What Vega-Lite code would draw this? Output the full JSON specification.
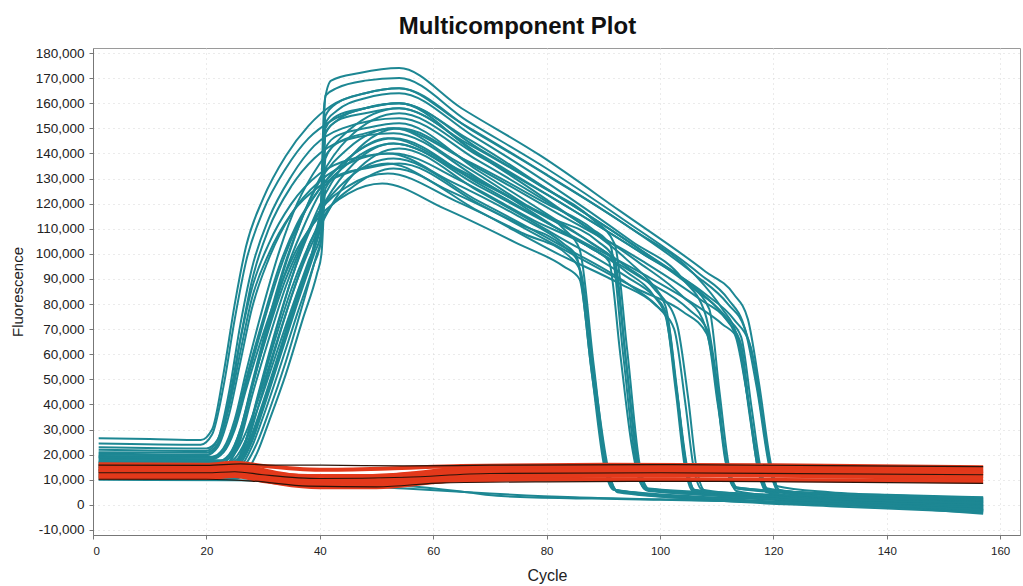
{
  "$schema": "https://vega.github.io/schema/vega-lite/v6.json",
  "width": 927,
  "height": 487,
  "autosize": "none",
  "padding": {"left": 93, "top": 48, "right": 3, "bottom": 51},
  "background": "white",
  "title": {
    "text": "Multicomponent Plot",
    "font": "Liberation Sans",
    "fontSize": 24,
    "fontWeight": "bold",
    "color": "#111111",
    "anchor": "middle",
    "dx": -39,
    "offset": 7
  },
  "config": {
    "view": {"stroke": "#9a9a9a", "strokeWidth": 1},
    "axis": {
      "labelFont": "Liberation Sans",
      "titleFont": "Liberation Sans",
      "labelColor": "#222222",
      "titleColor": "#222222",
      "titleFontWeight": "normal",
      "domainColor": "#777777",
      "tickColor": "#777777",
      "tickSize": 4,
      "gridColor": "#d6d6d6",
      "gridDash": [1, 4],
      "gridWidth": 1
    }
  },
  "datasets": {
    "fam": [
      {"well":"W01","cycle":1,"value":26500},{"well":"W01","cycle":10,"value":26200},{"well":"W01","cycle":19,"value":25800},{"well":"W01","cycle":21,"value":30000},{"well":"W01","cycle":23,"value":52000},{"well":"W01","cycle":25,"value":80000},{"well":"W01","cycle":27,"value":103000},{"well":"W01","cycle":30,"value":122000},{"well":"W01","cycle":34,"value":139000},{"well":"W01","cycle":38,"value":151000},{"well":"W01","cycle":42,"value":159000},{"well":"W01","cycle":48,"value":164000},{"well":"W01","cycle":54,"value":166000},{"well":"W01","cycle":65,"value":152000},{"well":"W01","cycle":79,"value":133000},{"well":"W01","cycle":93,"value":113000},{"well":"W01","cycle":106,"value":92000},{"well":"W01","cycle":112,"value":80000},{"well":"W01","cycle":115,"value":70000},{"well":"W01","cycle":117,"value":52000},{"well":"W01","cycle":119,"value":20000},{"well":"W01","cycle":120.5,"value":7500},{"well":"W01","cycle":130,"value":5000},{"well":"W01","cycle":145,"value":3500},{"well":"W01","cycle":157,"value":2500},

      {"well":"W02","cycle":1,"value":24500},{"well":"W02","cycle":19,"value":24000},{"well":"W02","cycle":21,"value":28000},{"well":"W02","cycle":23,"value":47000},{"well":"W02","cycle":25,"value":74000},{"well":"W02","cycle":27,"value":97000},{"well":"W02","cycle":30,"value":117000},{"well":"W02","cycle":34,"value":134000},{"well":"W02","cycle":38,"value":146000},{"well":"W02","cycle":42,"value":153000},{"well":"W02","cycle":48,"value":158000},{"well":"W02","cycle":54,"value":160000},{"well":"W02","cycle":66,"value":146000},{"well":"W02","cycle":80,"value":126000},{"well":"W02","cycle":95,"value":104000},{"well":"W02","cycle":106,"value":86000},{"well":"W02","cycle":111,"value":76000},{"well":"W02","cycle":113.5,"value":66000},{"well":"W02","cycle":115.5,"value":42000},{"well":"W02","cycle":117.5,"value":14000},{"well":"W02","cycle":119,"value":6500},{"well":"W02","cycle":130,"value":4000},{"well":"W02","cycle":145,"value":2500},{"well":"W02","cycle":157,"value":1500},

      {"well":"W03","cycle":1,"value":22000},{"well":"W03","cycle":20,"value":21500},{"well":"W03","cycle":22,"value":26000},{"well":"W03","cycle":24,"value":45000},{"well":"W03","cycle":26,"value":72000},{"well":"W03","cycle":28,"value":94000},{"well":"W03","cycle":31,"value":114000},{"well":"W03","cycle":35,"value":131000},{"well":"W03","cycle":39,"value":143000},{"well":"W03","cycle":44,"value":150000},{"well":"W03","cycle":54,"value":154000},{"well":"W03","cycle":68,"value":137000},{"well":"W03","cycle":82,"value":118000},{"well":"W03","cycle":96,"value":97000},{"well":"W03","cycle":104,"value":83000},{"well":"W03","cycle":107.5,"value":74000},{"well":"W03","cycle":109.5,"value":55000},{"well":"W03","cycle":111.5,"value":18000},{"well":"W03","cycle":113,"value":7000},{"well":"W03","cycle":125,"value":5000},{"well":"W03","cycle":140,"value":4000},{"well":"W03","cycle":157,"value":3000},

      {"well":"W04","cycle":1,"value":20500},{"well":"W04","cycle":20,"value":20000},{"well":"W04","cycle":22,"value":24000},{"well":"W04","cycle":24,"value":40000},{"well":"W04","cycle":26,"value":66000},{"well":"W04","cycle":28,"value":89000},{"well":"W04","cycle":31,"value":110000},{"well":"W04","cycle":35,"value":127000},{"well":"W04","cycle":39,"value":138000},{"well":"W04","cycle":44,"value":145000},{"well":"W04","cycle":53,"value":148000},{"well":"W04","cycle":68,"value":130000},{"well":"W04","cycle":82,"value":110000},{"well":"W04","cycle":94,"value":93000},{"well":"W04","cycle":99,"value":83000},{"well":"W04","cycle":101,"value":75000},{"well":"W04","cycle":103,"value":45000},{"well":"W04","cycle":104.8,"value":15000},{"well":"W04","cycle":106,"value":6000},{"well":"W04","cycle":120,"value":3000},{"well":"W04","cycle":140,"value":1200},{"well":"W04","cycle":157,"value":-500},

      {"well":"W05","cycle":1,"value":23000},{"well":"W05","cycle":20,"value":22500},{"well":"W05","cycle":22,"value":26000},{"well":"W05","cycle":24,"value":42000},{"well":"W05","cycle":26,"value":66000},{"well":"W05","cycle":28,"value":86000},{"well":"W05","cycle":31,"value":104000},{"well":"W05","cycle":35,"value":120000},{"well":"W05","cycle":40,"value":132000},{"well":"W05","cycle":46,"value":138000},{"well":"W05","cycle":53,"value":140000},{"well":"W05","cycle":65,"value":129000},{"well":"W05","cycle":78,"value":113000},{"well":"W05","cycle":88,"value":102000},{"well":"W05","cycle":91,"value":97000},{"well":"W05","cycle":93,"value":60000},{"well":"W05","cycle":95,"value":24000},{"well":"W05","cycle":96.5,"value":9000},{"well":"W05","cycle":98,"value":5500},{"well":"W05","cycle":115,"value":3500},{"well":"W05","cycle":135,"value":2000},{"well":"W05","cycle":157,"value":500},

      {"well":"W06","cycle":1,"value":21000},{"well":"W06","cycle":20,"value":20800},{"well":"W06","cycle":22,"value":24500},{"well":"W06","cycle":24,"value":39000},{"well":"W06","cycle":26,"value":61000},{"well":"W06","cycle":28,"value":82000},{"well":"W06","cycle":31,"value":100000},{"well":"W06","cycle":35,"value":116000},{"well":"W06","cycle":40,"value":127000},{"well":"W06","cycle":46,"value":133000},{"well":"W06","cycle":52,"value":136000},{"well":"W06","cycle":62,"value":126000},{"well":"W06","cycle":75,"value":112000},{"well":"W06","cycle":83,"value":103000},{"well":"W06","cycle":85.5,"value":97000},{"well":"W06","cycle":88,"value":55000},{"well":"W06","cycle":90.5,"value":14000},{"well":"W06","cycle":92,"value":6000},{"well":"W06","cycle":105,"value":3000},{"well":"W06","cycle":130,"value":0},{"well":"W06","cycle":157,"value":-2500},

      {"well":"W07","cycle":1,"value":19000},{"well":"W07","cycle":21,"value":18800},{"well":"W07","cycle":23,"value":21000},{"well":"W07","cycle":25,"value":30000},{"well":"W07","cycle":27,"value":46000},{"well":"W07","cycle":30,"value":68000},{"well":"W07","cycle":33,"value":87000},{"well":"W07","cycle":36,"value":102000},{"well":"W07","cycle":40,"value":115000},{"well":"W07","cycle":45,"value":124000},{"well":"W07","cycle":51,"value":128000},{"well":"W07","cycle":62,"value":118000},{"well":"W07","cycle":75,"value":104000},{"well":"W07","cycle":83,"value":95000},{"well":"W07","cycle":85.8,"value":90000},{"well":"W07","cycle":88,"value":52000},{"well":"W07","cycle":90.8,"value":14000},{"well":"W07","cycle":92.5,"value":5500},{"well":"W07","cycle":105,"value":2500},{"well":"W07","cycle":130,"value":-500},{"well":"W07","cycle":157,"value":-3000},

      {"well":"W08","cycle":1,"value":17500},{"well":"W08","cycle":22,"value":17300},{"well":"W08","cycle":24,"value":20000},{"well":"W08","cycle":26,"value":30000},{"well":"W08","cycle":28,"value":47000},{"well":"W08","cycle":31,"value":70000},{"well":"W08","cycle":34,"value":90000},{"well":"W08","cycle":37,"value":105000},{"well":"W08","cycle":40,"value":117000},{"well":"W08","cycle":45,"value":127000},{"well":"W08","cycle":52,"value":132000},{"well":"W08","cycle":64,"value":121000},{"well":"W08","cycle":76,"value":108000},{"well":"W08","cycle":84,"value":99000},{"well":"W08","cycle":86,"value":93000},{"well":"W08","cycle":88.5,"value":50000},{"well":"W08","cycle":91,"value":13000},{"well":"W08","cycle":92.5,"value":5000},{"well":"W08","cycle":110,"value":2000},{"well":"W08","cycle":135,"value":-200},{"well":"W08","cycle":157,"value":-2000},

      {"well":"W09","cycle":1,"value":16000},{"well":"W09","cycle":22,"value":15800},{"well":"W09","cycle":24,"value":18500},{"well":"W09","cycle":26,"value":29000},{"well":"W09","cycle":28,"value":47000},{"well":"W09","cycle":31,"value":71000},{"well":"W09","cycle":34,"value":93000},{"well":"W09","cycle":37,"value":110000},{"well":"W09","cycle":40,"value":124000},{"well":"W09","cycle":45,"value":136000},{"well":"W09","cycle":53,"value":144000},{"well":"W09","cycle":66,"value":131000},{"well":"W09","cycle":80,"value":115000},{"well":"W09","cycle":89,"value":105000},{"well":"W09","cycle":92,"value":98000},{"well":"W09","cycle":94,"value":58000},{"well":"W09","cycle":96.3,"value":15000},{"well":"W09","cycle":97.8,"value":6000},{"well":"W09","cycle":115,"value":3800},{"well":"W09","cycle":140,"value":2200},{"well":"W09","cycle":157,"value":1000},

      {"well":"W10","cycle":1,"value":15000},{"well":"W10","cycle":22,"value":14800},{"well":"W10","cycle":24,"value":17000},{"well":"W10","cycle":26,"value":26000},{"well":"W10","cycle":28,"value":43000},{"well":"W10","cycle":31,"value":66000},{"well":"W10","cycle":34,"value":87000},{"well":"W10","cycle":37,"value":104000},{"well":"W10","cycle":40,"value":117000},{"well":"W10","cycle":45,"value":130000},{"well":"W10","cycle":53,"value":138000},{"well":"W10","cycle":68,"value":121000},{"well":"W10","cycle":82,"value":104000},{"well":"W10","cycle":95,"value":87000},{"well":"W10","cycle":100,"value":78000},{"well":"W10","cycle":102.5,"value":70000},{"well":"W10","cycle":104.5,"value":40000},{"well":"W10","cycle":106,"value":14000},{"well":"W10","cycle":107.5,"value":6000},{"well":"W10","cycle":120,"value":3500},{"well":"W10","cycle":140,"value":1500},{"well":"W10","cycle":157,"value":0},

      {"well":"W11","cycle":1,"value":18500},{"well":"W11","cycle":21,"value":18200},{"well":"W11","cycle":23,"value":21000},{"well":"W11","cycle":25,"value":31000},{"well":"W11","cycle":27,"value":48000},{"well":"W11","cycle":30,"value":72000},{"well":"W11","cycle":33,"value":94000},{"well":"W11","cycle":36,"value":111000},{"well":"W11","cycle":40,"value":126000},{"well":"W11","cycle":45,"value":138000},{"well":"W11","cycle":53,"value":146000},{"well":"W11","cycle":68,"value":128000},{"well":"W11","cycle":82,"value":110000},{"well":"W11","cycle":97,"value":90000},{"well":"W11","cycle":105,"value":78000},{"well":"W11","cycle":108.5,"value":69000},{"well":"W11","cycle":110.3,"value":40000},{"well":"W11","cycle":112,"value":14000},{"well":"W11","cycle":113.5,"value":6500},{"well":"W11","cycle":125,"value":4500},{"well":"W11","cycle":145,"value":3000},{"well":"W11","cycle":157,"value":2000},

      {"well":"W12","cycle":1,"value":13500},{"well":"W12","cycle":23,"value":13300},{"well":"W12","cycle":25,"value":16000},{"well":"W12","cycle":27,"value":26000},{"well":"W12","cycle":29,"value":42000},{"well":"W12","cycle":32,"value":65000},{"well":"W12","cycle":35,"value":86000},{"well":"W12","cycle":38,"value":103000},{"well":"W12","cycle":41,"value":116000},{"well":"W12","cycle":46,"value":127000},{"well":"W12","cycle":53,"value":134000},{"well":"W12","cycle":68,"value":117000},{"well":"W12","cycle":82,"value":100000},{"well":"W12","cycle":93,"value":88000},{"well":"W12","cycle":99,"value":80000},{"well":"W12","cycle":101.3,"value":74000},{"well":"W12","cycle":103,"value":44000},{"well":"W12","cycle":104.8,"value":14000},{"well":"W12","cycle":106.3,"value":5500},{"well":"W12","cycle":120,"value":2500},{"well":"W12","cycle":140,"value":500},{"well":"W12","cycle":157,"value":-1500},

      {"well":"W13","cycle":1,"value":12000},{"well":"W13","cycle":23,"value":11800},{"well":"W13","cycle":25,"value":14500},{"well":"W13","cycle":27,"value":25000},{"well":"W13","cycle":29,"value":42000},{"well":"W13","cycle":32,"value":67000},{"well":"W13","cycle":35,"value":90000},{"well":"W13","cycle":38,"value":109000},{"well":"W13","cycle":41,"value":124000},{"well":"W13","cycle":46,"value":140000},{"well":"W13","cycle":54,"value":150000},{"well":"W13","cycle":68,"value":134000},{"well":"W13","cycle":82,"value":116000},{"well":"W13","cycle":97,"value":97000},{"well":"W13","cycle":107,"value":82000},{"well":"W13","cycle":112,"value":73000},{"well":"W13","cycle":114.3,"value":64000},{"well":"W13","cycle":116,"value":35000},{"well":"W13","cycle":117.7,"value":13000},{"well":"W13","cycle":119.2,"value":5000},{"well":"W13","cycle":130,"value":1500},{"well":"W13","cycle":145,"value":-1500},{"well":"W13","cycle":157,"value":-3500},

      {"well":"W14","cycle":1,"value":14500},{"well":"W14","cycle":22,"value":14300},{"well":"W14","cycle":24,"value":17000},{"well":"W14","cycle":26,"value":28000},{"well":"W14","cycle":28,"value":46000},{"well":"W14","cycle":31,"value":72000},{"well":"W14","cycle":34,"value":96000},{"well":"W14","cycle":37,"value":115000},{"well":"W14","cycle":40,"value":130000},{"well":"W14","cycle":45,"value":146000},{"well":"W14","cycle":54,"value":156000},{"well":"W14","cycle":68,"value":139000},{"well":"W14","cycle":82,"value":121000},{"well":"W14","cycle":97,"value":100000},{"well":"W14","cycle":108,"value":84000},{"well":"W14","cycle":113,"value":74000},{"well":"W14","cycle":116,"value":63000},{"well":"W14","cycle":118,"value":35000},{"well":"W14","cycle":119.8,"value":13000},{"well":"W14","cycle":121.3,"value":5000},{"well":"W14","cycle":135,"value":1500},{"well":"W14","cycle":157,"value":-1000},

      {"well":"W15","cycle":1,"value":17000},{"well":"W15","cycle":22,"value":16800},{"well":"W15","cycle":24,"value":19500},{"well":"W15","cycle":26,"value":30000},{"well":"W15","cycle":28,"value":48000},{"well":"W15","cycle":31,"value":74000},{"well":"W15","cycle":34,"value":97000},{"well":"W15","cycle":37,"value":115000},{"well":"W15","cycle":40,"value":129000},{"well":"W15","cycle":45,"value":142000},{"well":"W15","cycle":53,"value":150000},{"well":"W15","cycle":66,"value":137000},{"well":"W15","cycle":80,"value":120000},{"well":"W15","cycle":88,"value":110000},{"well":"W15","cycle":91.3,"value":103000},{"well":"W15","cycle":93.5,"value":60000},{"well":"W15","cycle":95.8,"value":16000},{"well":"W15","cycle":97.3,"value":6500},{"well":"W15","cycle":115,"value":4000},{"well":"W15","cycle":140,"value":2500},{"well":"W15","cycle":157,"value":1500},

      {"well":"W16","cycle":1,"value":11000},{"well":"W16","cycle":23,"value":10900},{"well":"W16","cycle":25,"value":13500},{"well":"W16","cycle":27,"value":23000},{"well":"W16","cycle":29,"value":38000},{"well":"W16","cycle":32,"value":61000},{"well":"W16","cycle":35,"value":83000},{"well":"W16","cycle":38,"value":101000},{"well":"W16","cycle":41,"value":115000},{"well":"W16","cycle":46,"value":132000},{"well":"W16","cycle":54,"value":142000},{"well":"W16","cycle":68,"value":125000},{"well":"W16","cycle":82,"value":107000},{"well":"W16","cycle":94,"value":91000},{"well":"W16","cycle":99,"value":83000},{"well":"W16","cycle":100.8,"value":78000},{"well":"W16","cycle":102.8,"value":45000},{"well":"W16","cycle":104.4,"value":15000},{"well":"W16","cycle":105.8,"value":5500},{"well":"W16","cycle":120,"value":2000},{"well":"W16","cycle":145,"value":-1000},{"well":"W16","cycle":157,"value":-2800},

      {"well":"W17","cycle":1,"value":19500},{"well":"W17","cycle":21,"value":19200},{"well":"W17","cycle":23,"value":22500},{"well":"W17","cycle":25,"value":34000},{"well":"W17","cycle":27,"value":53000},{"well":"W17","cycle":30,"value":79000},{"well":"W17","cycle":33,"value":102000},{"well":"W17","cycle":36,"value":120000},{"well":"W17","cycle":40,"value":136000},{"well":"W17","cycle":45,"value":149000},{"well":"W17","cycle":54,"value":158000},{"well":"W17","cycle":68,"value":140000},{"well":"W17","cycle":82,"value":121000},{"well":"W17","cycle":97,"value":100000},{"well":"W17","cycle":105,"value":88000},{"well":"W17","cycle":108.7,"value":78000},{"well":"W17","cycle":110.5,"value":45000},{"well":"W17","cycle":112.2,"value":15000},{"well":"W17","cycle":113.8,"value":6500},{"well":"W17","cycle":128,"value":4500},{"well":"W17","cycle":145,"value":3200},{"well":"W17","cycle":157,"value":2200},

      {"well":"W18","cycle":1,"value":13000},{"well":"W18","cycle":23,"value":12800},{"well":"W18","cycle":25,"value":15500},{"well":"W18","cycle":27,"value":26000},{"well":"W18","cycle":29,"value":43000},{"well":"W18","cycle":32,"value":68000},{"well":"W18","cycle":35,"value":90000},{"well":"W18","cycle":38,"value":108000},{"well":"W18","cycle":41,"value":121000},{"well":"W18","cycle":46,"value":136000},{"well":"W18","cycle":53,"value":144000},{"well":"W18","cycle":68,"value":127000},{"well":"W18","cycle":82,"value":110000},{"well":"W18","cycle":97,"value":92000},{"well":"W18","cycle":106,"value":80000},{"well":"W18","cycle":111,"value":72000},{"well":"W18","cycle":113.8,"value":66000},{"well":"W18","cycle":115.8,"value":36000},{"well":"W18","cycle":117.4,"value":13000},{"well":"W18","cycle":118.8,"value":5000},{"well":"W18","cycle":130,"value":1500},{"well":"W18","cycle":157,"value":-2000},

      {"well":"W19","cycle":1,"value":16500},{"well":"W19","cycle":23,"value":16300},{"well":"W19","cycle":25,"value":18500},{"well":"W19","cycle":27,"value":26000},{"well":"W19","cycle":29,"value":38000},{"well":"W19","cycle":32,"value":58000},{"well":"W19","cycle":35,"value":78000},{"well":"W19","cycle":38,"value":97000},{"well":"W19","cycle":40,"value":110000},{"well":"W19","cycle":40.8,"value":160000},{"well":"W19","cycle":42,"value":169000},{"well":"W19","cycle":47,"value":172000},{"well":"W19","cycle":54,"value":174000},{"well":"W19","cycle":65,"value":158000},{"well":"W19","cycle":79,"value":139000},{"well":"W19","cycle":93,"value":117000},{"well":"W19","cycle":108,"value":93000},{"well":"W19","cycle":113,"value":84000},{"well":"W19","cycle":115.5,"value":74000},{"well":"W19","cycle":117.5,"value":48000},{"well":"W19","cycle":119.6,"value":16000},{"well":"W19","cycle":121,"value":6000},{"well":"W19","cycle":135,"value":3000},{"well":"W19","cycle":157,"value":1000},

      {"well":"W20","cycle":1,"value":15500},{"well":"W20","cycle":24,"value":15300},{"well":"W20","cycle":26,"value":18000},{"well":"W20","cycle":28,"value":27000},{"well":"W20","cycle":30,"value":40000},{"well":"W20","cycle":33,"value":61000},{"well":"W20","cycle":36,"value":82000},{"well":"W20","cycle":39,"value":103000},{"well":"W20","cycle":40.2,"value":112000},{"well":"W20","cycle":41,"value":163000},{"well":"W20","cycle":43,"value":166000},{"well":"W20","cycle":48,"value":169000},{"well":"W20","cycle":54,"value":170000},{"well":"W20","cycle":66,"value":153000},{"well":"W20","cycle":80,"value":134000},{"well":"W20","cycle":94,"value":113000},{"well":"W20","cycle":107,"value":92000},{"well":"W20","cycle":112,"value":82000},{"well":"W20","cycle":115,"value":70000},{"well":"W20","cycle":117.2,"value":45000},{"well":"W20","cycle":119.3,"value":15000},{"well":"W20","cycle":120.8,"value":5500},{"well":"W20","cycle":135,"value":2200},{"well":"W20","cycle":157,"value":0},

      {"well":"W21","cycle":1,"value":14000},{"well":"W21","cycle":24,"value":13800},{"well":"W21","cycle":26,"value":16500},{"well":"W21","cycle":28,"value":25000},{"well":"W21","cycle":30,"value":38000},{"well":"W21","cycle":33,"value":59000},{"well":"W21","cycle":36,"value":80000},{"well":"W21","cycle":39,"value":100000},{"well":"W21","cycle":40.2,"value":108000},{"well":"W21","cycle":41,"value":155000},{"well":"W21","cycle":43,"value":160000},{"well":"W21","cycle":48,"value":164000},{"well":"W21","cycle":54,"value":166000},{"well":"W21","cycle":67,"value":149000},{"well":"W21","cycle":81,"value":130000},{"well":"W21","cycle":95,"value":110000},{"well":"W21","cycle":106,"value":92000},{"well":"W21","cycle":111,"value":78000},{"well":"W21","cycle":113.5,"value":68000},{"well":"W21","cycle":115.5,"value":42000},{"well":"W21","cycle":117.3,"value":14000},{"well":"W21","cycle":118.8,"value":6000},{"well":"W21","cycle":130,"value":3000},{"well":"W21","cycle":157,"value":500},

      {"well":"W22","cycle":1,"value":18000},{"well":"W22","cycle":23,"value":17800},{"well":"W22","cycle":25,"value":20500},{"well":"W22","cycle":27,"value":29000},{"well":"W22","cycle":29,"value":41000},{"well":"W22","cycle":32,"value":62000},{"well":"W22","cycle":35,"value":83000},{"well":"W22","cycle":38,"value":103000},{"well":"W22","cycle":40.2,"value":117000},{"well":"W22","cycle":41,"value":152000},{"well":"W22","cycle":43,"value":157000},{"well":"W22","cycle":48,"value":162000},{"well":"W22","cycle":54,"value":164000},{"well":"W22","cycle":67,"value":147000},{"well":"W22","cycle":81,"value":127000},{"well":"W22","cycle":95,"value":105000},{"well":"W22","cycle":104,"value":90000},{"well":"W22","cycle":108,"value":76000},{"well":"W22","cycle":110,"value":50000},{"well":"W22","cycle":111.8,"value":15000},{"well":"W22","cycle":113.3,"value":7000},{"well":"W22","cycle":125,"value":5000},{"well":"W22","cycle":157,"value":2800},

      {"well":"W23","cycle":1,"value":12500},{"well":"W23","cycle":24,"value":12300},{"well":"W23","cycle":26,"value":15000},{"well":"W23","cycle":28,"value":23000},{"well":"W23","cycle":30,"value":35000},{"well":"W23","cycle":33,"value":55000},{"well":"W23","cycle":36,"value":76000},{"well":"W23","cycle":39,"value":96000},{"well":"W23","cycle":40.2,"value":105000},{"well":"W23","cycle":41,"value":148000},{"well":"W23","cycle":43,"value":153000},{"well":"W23","cycle":48,"value":158000},{"well":"W23","cycle":54,"value":160000},{"well":"W23","cycle":67,"value":141000},{"well":"W23","cycle":81,"value":120000},{"well":"W23","cycle":94,"value":98000},{"well":"W23","cycle":100,"value":84000},{"well":"W23","cycle":103,"value":72000},{"well":"W23","cycle":105,"value":42000},{"well":"W23","cycle":106.5,"value":14000},{"well":"W23","cycle":108,"value":5500},{"well":"W23","cycle":120,"value":2500},{"well":"W23","cycle":157,"value":-1200},

      {"well":"W24","cycle":1,"value":16000},{"well":"W24","cycle":24,"value":15800},{"well":"W24","cycle":26,"value":18500},{"well":"W24","cycle":28,"value":27000},{"well":"W24","cycle":30,"value":40000},{"well":"W24","cycle":33,"value":61000},{"well":"W24","cycle":36,"value":82000},{"well":"W24","cycle":39,"value":102000},{"well":"W24","cycle":40.2,"value":113000},{"well":"W24","cycle":41,"value":148000},{"well":"W24","cycle":43,"value":153000},{"well":"W24","cycle":48,"value":156000},{"well":"W24","cycle":54,"value":158000},{"well":"W24","cycle":66,"value":144000},{"well":"W24","cycle":79,"value":127000},{"well":"W24","cycle":88,"value":114000},{"well":"W24","cycle":92,"value":104000},{"well":"W24","cycle":94.2,"value":62000},{"well":"W24","cycle":96.5,"value":15000},{"well":"W24","cycle":98,"value":6500},{"well":"W24","cycle":115,"value":4500},{"well":"W24","cycle":157,"value":2000},

      {"well":"W25","cycle":1,"value":13800},{"well":"W25","cycle":25,"value":13600},{"well":"W25","cycle":27,"value":16500},{"well":"W25","cycle":29,"value":25000},{"well":"W25","cycle":31,"value":37000},{"well":"W25","cycle":34,"value":57000},{"well":"W25","cycle":37,"value":80000},{"well":"W25","cycle":39.5,"value":100000},{"well":"W25","cycle":40.3,"value":106000},{"well":"W25","cycle":41,"value":138000},{"well":"W25","cycle":43,"value":144000},{"well":"W25","cycle":48,"value":148000},{"well":"W25","cycle":53,"value":150000},{"well":"W25","cycle":64,"value":137000},{"well":"W25","cycle":76,"value":120000},{"well":"W25","cycle":83,"value":110000},{"well":"W25","cycle":85.8,"value":102000},{"well":"W25","cycle":88.3,"value":56000},{"well":"W25","cycle":90.6,"value":15000},{"well":"W25","cycle":92,"value":6000},{"well":"W25","cycle":105,"value":3500},{"well":"W25","cycle":130,"value":1500},{"well":"W25","cycle":157,"value":-500},

      {"well":"W26","cycle":1,"value":17000},{"well":"W26","cycle":24,"value":16800},{"well":"W26","cycle":26,"value":19500},{"well":"W26","cycle":28,"value":28000},{"well":"W26","cycle":30,"value":41000},{"well":"W26","cycle":33,"value":62000},{"well":"W26","cycle":36,"value":84000},{"well":"W26","cycle":39,"value":104000},{"well":"W26","cycle":40.3,"value":122000},{"well":"W26","cycle":41,"value":142000},{"well":"W26","cycle":43,"value":147000},{"well":"W26","cycle":48,"value":150000},{"well":"W26","cycle":54,"value":152000},{"well":"W26","cycle":68,"value":133000},{"well":"W26","cycle":82,"value":113000},{"well":"W26","cycle":94,"value":95000},{"well":"W26","cycle":99,"value":86000},{"well":"W26","cycle":101,"value":79000},{"well":"W26","cycle":103,"value":46000},{"well":"W26","cycle":104.6,"value":15000},{"well":"W26","cycle":106,"value":6000},{"well":"W26","cycle":120,"value":3500},{"well":"W26","cycle":157,"value":800},

      {"well":"W27","cycle":1,"value":15000},{"well":"W27","cycle":24,"value":14800},{"well":"W27","cycle":26,"value":17500},{"well":"W27","cycle":28,"value":26000},{"well":"W27","cycle":30,"value":39000},{"well":"W27","cycle":33,"value":60000},{"well":"W27","cycle":36,"value":82000},{"well":"W27","cycle":39,"value":102000},{"well":"W27","cycle":40.3,"value":118000},{"well":"W27","cycle":41,"value":150000},{"well":"W27","cycle":43,"value":155000},{"well":"W27","cycle":48,"value":158000},{"well":"W27","cycle":54,"value":160000},{"well":"W27","cycle":68,"value":142000},{"well":"W27","cycle":82,"value":123000},{"well":"W27","cycle":97,"value":101000},{"well":"W27","cycle":107,"value":85000},{"well":"W27","cycle":112,"value":74000},{"well":"W27","cycle":114.3,"value":67000},{"well":"W27","cycle":116.2,"value":38000},{"well":"W27","cycle":117.8,"value":14000},{"well":"W27","cycle":119.3,"value":5000},{"well":"W27","cycle":135,"value":1000},{"well":"W27","cycle":157,"value":-1500},

      {"well":"W28","cycle":1,"value":19000},{"well":"W28","cycle":21,"value":18800},{"well":"W28","cycle":23,"value":21500},{"well":"W28","cycle":25,"value":32000},{"well":"W28","cycle":27,"value":50000},{"well":"W28","cycle":30,"value":74000},{"well":"W28","cycle":33,"value":96000},{"well":"W28","cycle":36,"value":112000},{"well":"W28","cycle":40,"value":126000},{"well":"W28","cycle":45,"value":138000},{"well":"W28","cycle":52,"value":146000},{"well":"W28","cycle":65,"value":133000},{"well":"W28","cycle":78,"value":117000},{"well":"W28","cycle":88,"value":104000},{"well":"W28","cycle":91.8,"value":97000},{"well":"W28","cycle":94,"value":57000},{"well":"W28","cycle":96,"value":16000},{"well":"W28","cycle":97.5,"value":6000},{"well":"W28","cycle":115,"value":3000},{"well":"W28","cycle":157,"value":-200},

      {"well":"W29","cycle":1,"value":20000},{"well":"W29","cycle":20,"value":19800},{"well":"W29","cycle":22,"value":23000},{"well":"W29","cycle":24,"value":36000},{"well":"W29","cycle":26,"value":57000},{"well":"W29","cycle":28,"value":78000},{"well":"W29","cycle":31,"value":98000},{"well":"W29","cycle":35,"value":116000},{"well":"W29","cycle":40,"value":129000},{"well":"W29","cycle":46,"value":137000},{"well":"W29","cycle":52,"value":140000},{"well":"W29","cycle":63,"value":129000},{"well":"W29","cycle":75,"value":115000},{"well":"W29","cycle":83,"value":104000},{"well":"W29","cycle":85.3,"value":99000},{"well":"W29","cycle":87.8,"value":56000},{"well":"W29","cycle":90.2,"value":15000},{"well":"W29","cycle":91.8,"value":6000},{"well":"W29","cycle":105,"value":3200},{"well":"W29","cycle":157,"value":-800},

      {"well":"W30","cycle":1,"value":10500},{"well":"W30","cycle":25,"value":10400},{"well":"W30","cycle":27,"value":13000},{"well":"W30","cycle":29,"value":21000},{"well":"W30","cycle":31,"value":33000},{"well":"W30","cycle":34,"value":52000},{"well":"W30","cycle":37,"value":74000},{"well":"W30","cycle":39.5,"value":92000},{"well":"W30","cycle":40.3,"value":100000},{"well":"W30","cycle":41,"value":126000},{"well":"W30","cycle":43,"value":131000},{"well":"W30","cycle":48,"value":134000},{"well":"W30","cycle":54,"value":136000},{"well":"W30","cycle":68,"value":120000},{"well":"W30","cycle":82,"value":103000},{"well":"W30","cycle":96,"value":86000},{"well":"W30","cycle":104,"value":77000},{"well":"W30","cycle":108.3,"value":68000},{"well":"W30","cycle":110.2,"value":40000},{"well":"W30","cycle":112,"value":14000},{"well":"W30","cycle":113.5,"value":5500},{"well":"W30","cycle":130,"value":1500},{"well":"W30","cycle":157,"value":-2500},

      {"well":"W31","cycle":1,"value":11500},{"well":"W31","cycle":20,"value":11200},{"well":"W31","cycle":26,"value":11000},{"well":"W31","cycle":35,"value":10000},{"well":"W31","cycle":45,"value":8500},{"well":"W31","cycle":58,"value":7000},{"well":"W31","cycle":66,"value":5000},{"well":"W31","cycle":72,"value":3500},{"well":"W31","cycle":88,"value":2500},{"well":"W31","cycle":100,"value":2000},{"well":"W31","cycle":120,"value":1200},{"well":"W31","cycle":140,"value":0},{"well":"W31","cycle":157,"value":-2000},

      {"well":"W32","cycle":1,"value":10000},{"well":"W32","cycle":25,"value":9800},{"well":"W32","cycle":40,"value":9000},{"well":"W32","cycle":55,"value":6500},{"well":"W32","cycle":70,"value":4500},{"well":"W32","cycle":85,"value":3000},{"well":"W32","cycle":100,"value":2200},{"well":"W32","cycle":130,"value":500},{"well":"W32","cycle":157,"value":-1800}
    ],
    "rox": [
      {"well":"R1","cycle":1,"value":15500},{"well":"R1","cycle":15,"value":15500},{"well":"R1","cycle":22,"value":15800},{"well":"R1","cycle":25,"value":16500},{"well":"R1","cycle":28,"value":15000},{"well":"R1","cycle":33,"value":12500},{"well":"R1","cycle":40,"value":11000},{"well":"R1","cycle":48,"value":11000},{"well":"R1","cycle":56,"value":12500},{"well":"R1","cycle":65,"value":14500},{"well":"R1","cycle":80,"value":15200},{"well":"R1","cycle":100,"value":15500},{"well":"R1","cycle":120,"value":15300},{"well":"R1","cycle":140,"value":15000},{"well":"R1","cycle":157,"value":14500},
      {"well":"R2","cycle":1,"value":14500},{"well":"R2","cycle":20,"value":14300},{"well":"R2","cycle":25,"value":15500},{"well":"R2","cycle":28,"value":13500},{"well":"R2","cycle":33,"value":11000},{"well":"R2","cycle":40,"value":9500},{"well":"R2","cycle":48,"value":9500},{"well":"R2","cycle":56,"value":11000},{"well":"R2","cycle":66,"value":13500},{"well":"R2","cycle":80,"value":14200},{"well":"R2","cycle":100,"value":14400},{"well":"R2","cycle":130,"value":14000},{"well":"R2","cycle":157,"value":13500},
      {"well":"R3","cycle":1,"value":13500},{"well":"R3","cycle":20,"value":13300},{"well":"R3","cycle":25,"value":14500},{"well":"R3","cycle":28,"value":12500},{"well":"R3","cycle":33,"value":10000},{"well":"R3","cycle":40,"value":8500},{"well":"R3","cycle":48,"value":8300},{"well":"R3","cycle":56,"value":10000},{"well":"R3","cycle":66,"value":12500},{"well":"R3","cycle":80,"value":13200},{"well":"R3","cycle":100,"value":13400},{"well":"R3","cycle":130,"value":13000},{"well":"R3","cycle":157,"value":12500},
      {"well":"R4","cycle":1,"value":12500},{"well":"R4","cycle":20,"value":12400},{"well":"R4","cycle":25,"value":13500},{"well":"R4","cycle":28,"value":11500},{"well":"R4","cycle":33,"value":9000},{"well":"R4","cycle":40,"value":7500},{"well":"R4","cycle":48,"value":7300},{"well":"R4","cycle":56,"value":9000},{"well":"R4","cycle":66,"value":11500},{"well":"R4","cycle":80,"value":12300},{"well":"R4","cycle":100,"value":12500},{"well":"R4","cycle":130,"value":12000},{"well":"R4","cycle":157,"value":11500},
      {"well":"R5","cycle":1,"value":11500},{"well":"R5","cycle":20,"value":11400},{"well":"R5","cycle":25,"value":12500},{"well":"R5","cycle":28,"value":10800},{"well":"R5","cycle":33,"value":8500},{"well":"R5","cycle":40,"value":7000},{"well":"R5","cycle":50,"value":7000},{"well":"R5","cycle":60,"value":9000},{"well":"R5","cycle":70,"value":11000},{"well":"R5","cycle":85,"value":11500},{"well":"R5","cycle":110,"value":11800},{"well":"R5","cycle":135,"value":11200},{"well":"R5","cycle":157,"value":10500},
      {"well":"R6","cycle":1,"value":14000},{"well":"R6","cycle":20,"value":14000},{"well":"R6","cycle":26,"value":14500},{"well":"R6","cycle":30,"value":13000},{"well":"R6","cycle":38,"value":11500},{"well":"R6","cycle":48,"value":11500},{"well":"R6","cycle":60,"value":12800},{"well":"R6","cycle":75,"value":13500},{"well":"R6","cycle":100,"value":13800},{"well":"R6","cycle":130,"value":13500},{"well":"R6","cycle":157,"value":13000},
      {"well":"R7","cycle":1,"value":10800},{"well":"R7","cycle":20,"value":10700},{"well":"R7","cycle":25,"value":11500},{"well":"R7","cycle":30,"value":9500},{"well":"R7","cycle":40,"value":8000},{"well":"R7","cycle":50,"value":8200},{"well":"R7","cycle":62,"value":9500},{"well":"R7","cycle":75,"value":10000},{"well":"R7","cycle":100,"value":10200},{"well":"R7","cycle":130,"value":9800},{"well":"R7","cycle":157,"value":9300},
      {"well":"R8","cycle":1,"value":16200},{"well":"R8","cycle":20,"value":16000},{"well":"R8","cycle":25,"value":16800},{"well":"R8","cycle":30,"value":15500},{"well":"R8","cycle":40,"value":14000},{"well":"R8","cycle":52,"value":14500},{"well":"R8","cycle":65,"value":15500},{"well":"R8","cycle":90,"value":16000},{"well":"R8","cycle":120,"value":15800},{"well":"R8","cycle":157,"value":15000}
    ],
    "vic": [
      {"well":"K1","cycle":1,"value":15800},{"well":"K1","cycle":20,"value":15700},{"well":"K1","cycle":26,"value":16300},{"well":"K1","cycle":32,"value":15800},{"well":"K1","cycle":40,"value":15800},{"well":"K1","cycle":55,"value":15500},{"well":"K1","cycle":70,"value":15800},{"well":"K1","cycle":100,"value":16000},{"well":"K1","cycle":130,"value":15600},{"well":"K1","cycle":157,"value":15200},
      {"well":"K2","cycle":1,"value":12800},{"well":"K2","cycle":20,"value":12800},{"well":"K2","cycle":25,"value":13200},{"well":"K2","cycle":30,"value":12000},{"well":"K2","cycle":40,"value":10500},{"well":"K2","cycle":55,"value":11000},{"well":"K2","cycle":70,"value":12500},{"well":"K2","cycle":100,"value":12800},{"well":"K2","cycle":157,"value":12000},
      {"well":"K3","cycle":1,"value":10200},{"well":"K3","cycle":20,"value":10200},{"well":"K3","cycle":28,"value":9500},{"well":"K3","cycle":38,"value":7500},{"well":"K3","cycle":50,"value":7200},{"well":"K3","cycle":62,"value":8800},{"well":"K3","cycle":80,"value":9200},{"well":"K3","cycle":110,"value":9400},{"well":"K3","cycle":157,"value":8600}
    ]
  },
  "encoding": {
    "x": {
      "field": "cycle",
      "type": "quantitative",
      "scale": {"domain": [0, 163.5], "nice": false, "zero": false},
      "axis": {
        "title": "Cycle",
        "values": [0, 20, 40, 60, 80, 100, 120, 140, 160],
        "format": "d",
        "labelFontSize": 11.5,
        "labelPadding": 6,
        "titleFontSize": 16,
        "titleX": 454,
        "titleY": 45,
        "titleBaseline": "alphabetic",
        "titleAlign": "center",
        "grid": true
      }
    },
    "y": {
      "field": "value",
      "type": "quantitative",
      "scale": {"domain": [-12000, 182000], "nice": false, "zero": false},
      "axis": {
        "title": "Fluorescence",
        "values": [-10000, 0, 10000, 20000, 30000, 40000, 50000, 60000, 70000, 80000, 90000, 100000, 110000, 120000, 130000, 140000, 150000, 160000, 170000, 180000],
        "labelExpr": "replace(format(datum.value, ','), '\u2212', '-')",
        "labelFontSize": 13.5,
        "labelPadding": 5,
        "titleFontSize": 15,
        "titleX": -76,
        "titleY": 243.5,
        "titleAlign": "center",
        "titleBaseline": "middle",
        "grid": true
      }
    }
  },
  "layer": [
    {
      "data": {"name": "fam"},
      "mark": {"type": "line", "interpolate": "monotone", "color": "#1d8793", "strokeWidth": 2, "strokeJoin": "round"},
      "encoding": {"detail": {"field": "well", "type": "nominal"}}
    },
    {
      "data": {"name": "rox"},
      "mark": {"type": "line", "interpolate": "monotone", "color": "#e3391b", "strokeWidth": 4},
      "encoding": {"detail": {"field": "well", "type": "nominal"}}
    },
    {
      "data": {"name": "vic"},
      "mark": {"type": "line", "interpolate": "monotone", "color": "#2b140a", "strokeWidth": 1.2},
      "encoding": {"detail": {"field": "well", "type": "nominal"}}
    }
  ]
}
